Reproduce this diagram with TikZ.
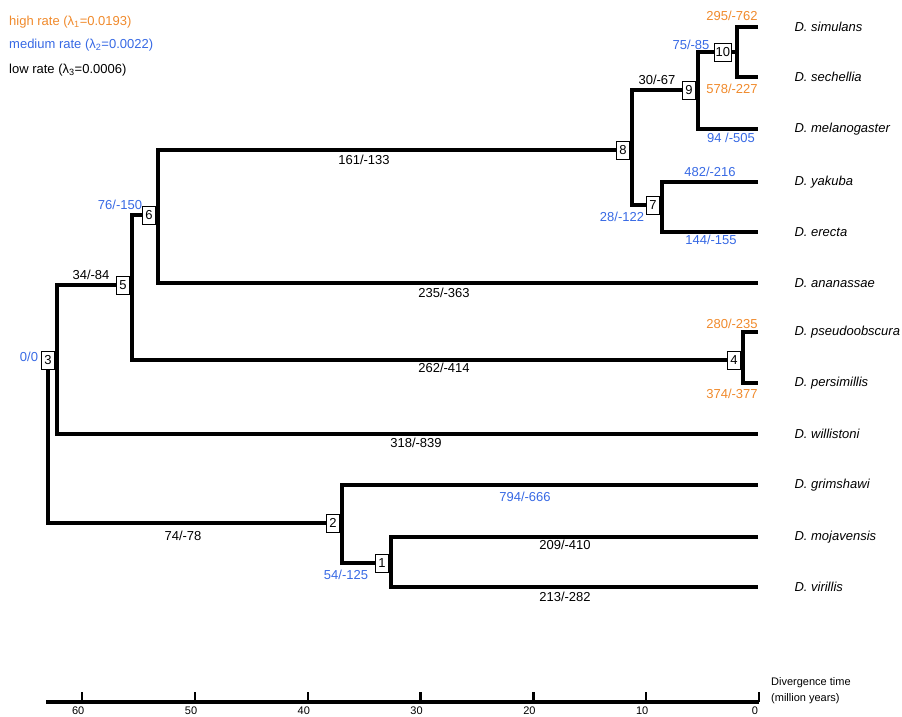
\documentclass[tikz,border=0pt]{standalone}
\usepackage{fontspec}
\setmainfont{Liberation Sans}
\usepackage{xcolor}
\usetikzlibrary{positioning}
\definecolor{highrate}{RGB}{240,138,44}
\definecolor{medrate}{RGB}{55,105,228}

\begin{document}
\begin{tikzpicture}[x=1pt, y=-1pt,
    nodebox/.style={rectangle, draw, fill=white, line width=0.8pt, minimum width=13pt, minimum height=18pt, inner sep=1.5pt, font=\fontsize{13}{13}\selectfont},
    branch/.style={line width=3.5pt},
    axisline/.style={line width=4pt},
    species/.style={anchor=west, font=\fontsize{13}{15}\selectfont\itshape},
    rate/.style={font=\fontsize{13}{15}\selectfont, inner sep=0pt},
    high/.style={rate, text=highrate},
    medium/.style={rate, text=medrate},
    low/.style={rate, text=black},
  ]
  \useasboundingbox (0,0) rectangle (902,717);

  % Legend
  \node[high, anchor=west] (leghigh) at (9,22) {high rate (λ\textsubscript{1}=0.0193)};
  \node[medium, anchor=west] (legmed) at (9,45) {medium rate (λ\textsubscript{2}=0.0022)};
  \node[low, anchor=west] (leglow) at (9,70) {low rate (λ\textsubscript{3}=0.0006)};

  % Leaves
  \coordinate (sim) at (758,27);
  \coordinate (sec) at (758,77);
  \coordinate (mel) at (758,129);
  \coordinate (yak) at (758,182);
  \coordinate (ere) at (758,232);
  \coordinate (ana) at (758,283);
  \coordinate (pse) at (758,332);
  \coordinate (per) at (758,383);
  \coordinate (wil) at (758,434);
  \coordinate (gri) at (758,485);
  \coordinate (moj) at (758,537);
  \coordinate (vir) at (758,587);

  % Junctions
  \coordinate (b10) at (737,52);
  \coordinate (b9) at (698,90);
  \coordinate (b8) at (632,150);
  \coordinate (b7) at (662,205);
  \coordinate (b6) at (158,215);
  \coordinate (b5) at (132,285);
  \coordinate (b4) at (743,360);
  \coordinate (b3) at (57,360);
  \coordinate (b2) at (342,523);
  \coordinate (b1) at (391,563);

  % Branches
  \draw[branch] (sim) -| (b10) |- (sec);
  \draw[branch] (b10) -| (b9) |- (mel);
  \draw[branch] (yak) -| (b7) |- (ere);
  \draw[branch] (b9) -| (b8) |- (b7);
  \draw[branch] (b8) -| (b6) |- (ana);
  \draw[branch] (pse) -| (b4) |- (per);
  \draw[branch] (b6) -| (b5) |- (b4);
  \draw[branch] (b5) -| (b3) |- (wil);
  \draw[branch] (moj) -| (b1) |- (vir);
  \draw[branch] (gri) -| (b2) |- (b1);

  % Node boxes
  \node[nodebox, left=2pt of b3] (n3) {3};
  \draw[branch] (n3.south) |- (b2);
  \node[nodebox, left=5pt of b10] (n10) {10};
  \node[nodebox, left=2pt of b9] (n9) {9};
  \node[nodebox, left=2pt of b8] (n8) {8};
  \node[nodebox, left=2pt of b7] (n7) {7};
  \node[nodebox, left=2pt of b6] (n6) {6};
  \node[nodebox, left=2pt of b5] (n5) {5};
  \node[nodebox, left=2pt of b4] (n4) {4};
  \node[nodebox, left=2pt of b2] (n2) {2};
  \node[nodebox, left=2pt of b1] (n1) {1};

  % Species
  \node[species, right=33pt of sim] (tsim) {D. simulans};
  \node[species, right=33pt of sec] (tsec) {D. sechellia};
  \node[species, right=33pt of mel] (tmel) {D. melanogaster};
  \node[species, right=33pt of yak] (tyak) {D. yakuba};
  \node[species, right=33pt of ere] (tere) {D. erecta};
  \node[species, right=33pt of ana] (tana) {D. ananassae};
  \node[species, right=33pt of pse] (tpse) {D. pseudoobscura};
  \node[species, right=33pt of per] (tper) {D. persimillis};
  \node[species, right=33pt of wil] (twil) {D. willistoni};
  \node[species, right=33pt of gri] (tgri) {D. grimshawi};
  \node[species, right=33pt of moj] (tmoj) {D. mojavensis};
  \node[species, right=33pt of vir] (tvir) {D. virillis};

  % Rates on branches
  \node[high] (rsim) at (732,16) {295/-762};
  \node[high] (rsec) at (732,89) {578/-227};
  \node[medium] (r10) at (691,45) {75/-85};
  \node[low] (r9) at (657,80) {30/-67};
  \node[medium] (rmel) at (731,138) {94 /-505};
  \node[medium] (ryak) at (710,172) {482/-216};
  \node[medium] (rere) at (711,240) {144/-155};
  \node[medium] (r7) at (622,217) {28/-122};
  \node[low] (r8) at (364,160) {161/-133};
  \node[medium] (r6) at (120,205) {76/-150};
  \node[low] (r5) at (91,275) {34/-84};
  \node[medium] (r3) at (29,357) {0/0};
  \node[low] (rana) at (444,293) {235/-363};
  \node[high] (rpse) at (732,324) {280/-235};
  \node[high] (rper) at (732,394) {374/-377};
  \node[low] (r4) at (444,368) {262/-414};
  \node[low] (rwil) at (416,443) {318/-839};
  \node[low] (r2) at (183,536) {74/-78};
  \node[medium] (rgri) at (525,497) {794/-666};
  \node[low] (rmoj) at (565,545) {209/-410};
  \node[medium] (r1) at (346,575) {54/-125};
  \node[low] (rvir) at (565,597) {213/-282};

  % Time axis
  \draw[axisline] (46,702) -- (759,702);
  \foreach \t in {0,10,...,60} {
    \draw[line width=2.5pt] ({759-11.28*\t},702) -- ++(0,-10);
    \node[anchor=north, inner sep=0pt, font=\fontsize{11}{11}\selectfont] at ({755-11.28*\t},707) {\t};
  }
  \node[anchor=west, inner sep=0pt, align=left, font=\fontsize{11}{16}\selectfont] (axlabel) at (771,691) {Divergence time\\(million years)};
\end{tikzpicture}
\end{document}
